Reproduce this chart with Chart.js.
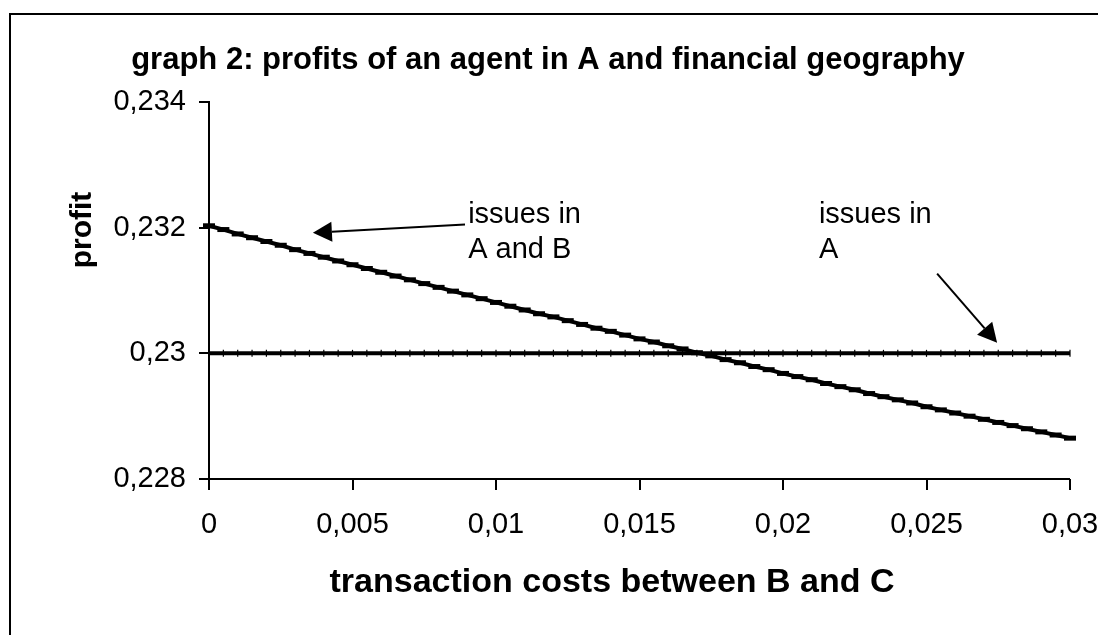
<!DOCTYPE html>
<html>
<head>
<meta charset="utf-8">
<script src="https://cdn.jsdelivr.net/npm/chart.js@4"></script>
<style>
  body { margin: 0; background: #fff; }
  #wrap { width: 1098px; height: 635px; position: relative; }
</style>
</head>
<body>
<div id="wrap"><canvas id="myChart"></canvas></div>
<script>
'use strict';
// transaction costs (x) every 0,0005
let costs = [];
for (let i = 0; i <= 61; i++) { costs.push(+(i * 0.0005).toFixed(4)); }

// profit when issuing in A and B
let issuesAB = [0.23203, 0.23197, 0.23190, 0.23184, 0.23178, 0.23172, 0.23165, 0.23159,
  0.23153, 0.23147, 0.23141, 0.23135, 0.23129, 0.23123, 0.23117, 0.23111, 0.23105,
  0.23099, 0.23093, 0.23087, 0.23081, 0.23075, 0.23069, 0.23063, 0.23058, 0.23052,
  0.23046, 0.23040, 0.23035, 0.23029, 0.23023, 0.23018, 0.23012, 0.23007, 0.23001,
  0.22996, 0.22990, 0.22985, 0.22979, 0.22974, 0.22968, 0.22963, 0.22958, 0.22952,
  0.22947, 0.22942, 0.22936, 0.22931, 0.22926, 0.22921, 0.22915, 0.22910, 0.22905,
  0.22900, 0.22895, 0.22890, 0.22885, 0.22880, 0.22875, 0.22870, 0.22865, 0.22860];

// profit when issuing in A only: flat
let issuesA = [0.23, 0.23, 0.23, 0.23, 0.23, 0.23, 0.23, 0.23, 0.23, 0.23, 0.23, 0.23,
  0.23, 0.23, 0.23, 0.23, 0.23, 0.23, 0.23, 0.23, 0.23, 0.23, 0.23, 0.23, 0.23, 0.23,
  0.23, 0.23, 0.23, 0.23, 0.23, 0.23, 0.23, 0.23, 0.23, 0.23, 0.23, 0.23, 0.23, 0.23,
  0.23, 0.23, 0.23, 0.23, 0.23, 0.23, 0.23, 0.23, 0.23, 0.23, 0.23, 0.23, 0.23, 0.23,
  0.23, 0.23, 0.23, 0.23, 0.23, 0.23, 0.23, 0.23];

let xTicks = [0, 0.005, 0.01, 0.015, 0.02, 0.025, 0.03];
let yTicks = [0.228, 0.23, 0.232, 0.234];

let chartTitle = 'graph 2: profits of an agent in A and financial geography';
let xTitle = 'transaction costs between B and C';
let yTitle = 'profit';

// labels + arrows, in data units
let notes = [
  { lines: ['issues in', 'A and B'], x: 0.00903, y1: 0.23208, y2: 0.23152 },
  { lines: ['issues in', 'A'], x: 0.02125, y1: 0.23208, y2: 0.23152 }
];
let arrows = [
  { from: [0.00892, 0.23205], to: [0.00362, 0.23192] },
  { from: [0.02537, 0.23127], to: [0.02746, 0.23017] }
];

const FONT = "'Liberation Sans', Arial, sans-serif";

function fmt(v) {
  return parseFloat(v.toFixed(4)).toString().replace('.', ',');
}

function pts(ys) {
  return costs.map((c, i) => ({ x: c, y: ys[i] }));
}

let decorPlugin = {
  id: 'decor',
  afterDraw(chart) {
    let ctx = chart.ctx;
    let xs = chart.scales.x, ys = chart.scales.y;
    ctx.save();
    // outer frame
    ctx.strokeStyle = '#000';
    ctx.lineWidth = 2;
    ctx.strokeRect(10, 14, 1200, 1000);

    // x axis line up to last tick
    ctx.beginPath();
    ctx.moveTo(xs.getPixelForValue(0), ys.bottom);
    ctx.lineTo(xs.getPixelForValue(xTicks[xTicks.length - 1]), ys.bottom);
    ctx.stroke();

    ctx.fillStyle = '#000';
    ctx.textAlign = 'center';
    ctx.textBaseline = 'middle';
    // title
    ctx.font = 'bold 31px ' + FONT;
    ctx.fillText(chartTitle, 548, 60);
    // x title
    ctx.font = 'bold 34px ' + FONT;
    ctx.fillText(xTitle, 612, 583);
    // y title
    ctx.font = 'bold 30px ' + FONT;
    ctx.save();
    ctx.translate(83, 230);
    ctx.rotate(-Math.PI / 2);
    ctx.fillText(yTitle, 0, 0);
    ctx.restore();

    // notes
    ctx.font = '29px ' + FONT;
    ctx.textAlign = 'left';
    ctx.textBaseline = 'alphabetic';
    notes.forEach(n => {
      let px = xs.getPixelForValue(n.x);
      ctx.fillText(n.lines[0], px, ys.getPixelForValue(n.y1));
      ctx.fillText(n.lines[1], px, ys.getPixelForValue(n.y2));
    });

    // arrows
    arrows.forEach(a => {
      let x0 = xs.getPixelForValue(a.from[0]), y0 = ys.getPixelForValue(a.from[1]);
      let x1 = xs.getPixelForValue(a.to[0]), y1 = ys.getPixelForValue(a.to[1]);
      let ang = Math.atan2(y1 - y0, x1 - x0);
      let len = 19, half = 10;
      let bx = x1 - len * Math.cos(ang), by = y1 - len * Math.sin(ang);
      ctx.lineWidth = 2;
      ctx.beginPath();
      ctx.moveTo(x0, y0);
      ctx.lineTo(bx, by);
      ctx.stroke();
      ctx.beginPath();
      ctx.moveTo(x1, y1);
      ctx.lineTo(bx + half * Math.sin(ang), by - half * Math.cos(ang));
      ctx.lineTo(bx - half * Math.sin(ang), by + half * Math.cos(ang));
      ctx.closePath();
      ctx.fill();
    });
    ctx.restore();
  }
};

let ctx = document.getElementById('myChart').getContext('2d');
let myChart = new Chart(ctx, {
  type: 'line',
  data: {
    datasets: [{
      label: 'issues in A and B',
      data: pts(issuesAB),
      borderColor: '#000',
      borderWidth: 4,
      pointStyle: 'line',
      pointRadius: 6,
      pointBorderWidth: 5,
      pointBorderColor: '#000',
      pointBackgroundColor: '#000',
      clip: { left: 12, top: 10, right: 11, bottom: 10 }
    }, {
      label: 'issues in A',
      data: pts(issuesA),
      borderColor: '#000',
      borderWidth: 4,
      pointStyle: 'line',
      pointRotation: 90,
      pointRadius: 3.5,
      pointBorderWidth: 1.2,
      pointBorderColor: '#000',
      clip: { left: 12, top: 10, right: 11, bottom: 10 }
    }]
  },
  options: {
    responsive: true,
    maintainAspectRatio: false,
    animation: false,
    layout: { padding: { left: 0, top: 102, right: 28, bottom: 0 } },
    plugins: {
      legend: { display: false },
      tooltip: { enabled: false },
      title: { display: false }
    },
    scales: {
      x: {
        type: 'linear',
        min: 0,
        max: 0.03,
        afterBuildTicks: (s) => { s.ticks = xTicks.map(v => ({ value: v })); },
        afterFit: (s) => { s.height = 156; s.paddingLeft = 0; s.paddingRight = 0; },
        border: { display: false },
        grid: { drawOnChartArea: false, color: '#000', lineWidth: 2, tickLength: 11 },
        ticks: {
          color: '#000',
          padding: 18,
          maxRotation: 0,
          font: { family: FONT, size: 29 },
          callback: (v) => fmt(v)
        }
      },
      y: {
        min: 0.228,
        max: 0.234,
        afterBuildTicks: (s) => { s.ticks = yTicks.map(v => ({ value: v })); },
        afterFit: (s) => { s.width = 209; s.paddingTop = 0; s.paddingBottom = 0; },
        border: { display: true, color: '#000', width: 2 },
        grid: { drawOnChartArea: false, color: '#000', lineWidth: 2, tickLength: 10 },
        ticks: {
          color: '#000',
          padding: 13,
          font: { family: FONT, size: 29 },
          callback: (v) => fmt(v)
        }
      }
    }
  },
  plugins: [decorPlugin]
});
</script>
</body>
</html>
